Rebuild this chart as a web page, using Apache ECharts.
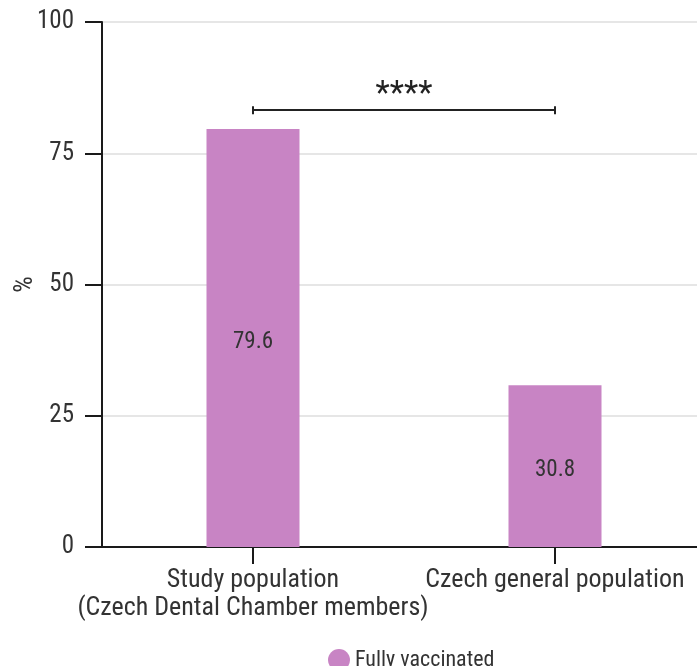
<!DOCTYPE html>
<html>
<head>
<meta charset="utf-8">
<script src="https://cdn.jsdelivr.net/npm/echarts@6/dist/echarts.min.js"></script>
<style>
  html, body { margin: 0; padding: 0; background: #fff; }
  #main { width: 697px; height: 666px; }
</style>
</head>
<body>
<div id="main"></div>
<script>
  const categories = ['Study population\n(Czech Dental Chamber members)', 'Czech general population'];
  const vaccinated = [79.6, 30.8];
  const yTicks = [0, 25, 50, 75, 100];
  const sigLabel = '****';
  const sigLevel = 83.2;

  const font = "'Roboto Condensed', 'Liberation Sans Narrow', 'DejaVu Sans Condensed', Roboto, sans-serif";

  let chart = echarts.init(document.getElementById('main'));

  let option = {
    animation: false,
    textStyle: { fontFamily: font },
    grid: { left: 102, right: -9, top: 22, bottom: 119, outerBoundsMode: 'none' },
    legend: {
      data: ['Fully vaccinated'],
      left: 323,
      top: 644,
      icon: 'circle',
      itemWidth: 22,
      itemHeight: 22,
      itemGap: 6,
      textStyle: { fontFamily: font, fontSize: 22, color: '#333' }
    },
    xAxis: {
      type: 'category',
      data: categories,
      axisLine: { lineStyle: { color: '#1a1a1a', width: 2 } },
      axisTick: { show: true, alignWithLabel: true, length: 17, lineStyle: { color: '#1a1a1a', width: 2 } },
      axisLabel: { interval: 0, margin: 19, fontSize: 26, lineHeight: 28, color: '#333', fontFamily: font }
    },
    yAxis: {
      type: 'value',
      min: yTicks[0],
      max: yTicks[yTicks.length - 1],
      interval: 25,
      name: '%',
      nameLocation: 'middle',
      nameGap: 64,
      nameMoveOverlap: false,
      nameTextStyle: { fontSize: 26, color: '#333', fontFamily: font },
      axisLine: { show: true, lineStyle: { color: '#1a1a1a', width: 2 } },
      axisTick: { show: true, length: 17, lineStyle: { color: '#1a1a1a', width: 2 } },
      axisLabel: { margin: 28, fontSize: 25, color: '#333', fontFamily: font },
      splitLine: { lineStyle: { color: '#e6e6e6', width: 2 } }
    },
    series: [
      {
        name: 'Fully vaccinated',
        type: 'bar',
        data: vaccinated,
        barWidth: 93,
        itemStyle: { color: '#c884c4' },
        label: {
          show: true,
          position: 'inside',
          offset: [0, 4],
          fontSize: 23,
          color: '#333',
          fontFamily: font
        },
        markLine: {
          silent: true,
          symbol: ['rect', 'rect'],
          symbolSize: [8, 2],
          lineStyle: { color: '#222', width: 2, type: 'solid' },
          label: {
            show: true,
            position: 'middle',
            formatter: sigLabel,
            fontSize: 33,
            color: '#222',
            distance: -2
          },
          data: [[
            { coord: [0, sigLevel] },
            { coord: [1, sigLevel] }
          ]]
        }
      }
    ]
  };

  chart.setOption(option);
</script>
</body>
</html>
